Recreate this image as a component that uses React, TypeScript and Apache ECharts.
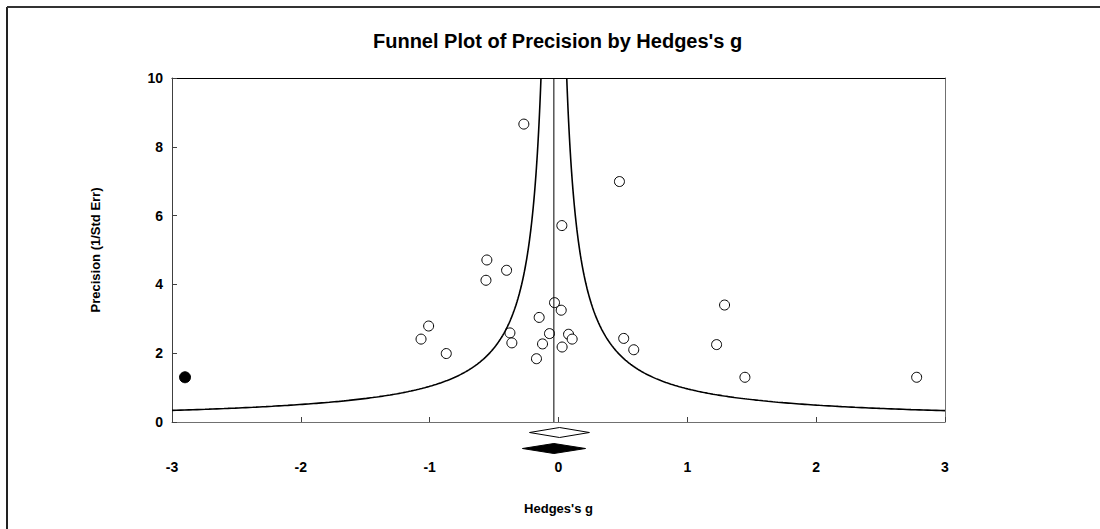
import React, { useEffect, useRef } from "react";
import * as echarts from "echarts";

// ---- data ----
const studyG = [
  -0.269, 0.473, 0.026, -0.556, -0.403, -0.563, -0.031, 0.021, -0.15, -1.008,
  -0.377, -0.07, 0.078, -1.067, 0.106, 0.506, -0.362, -0.124, 0.028, 0.584,
  -0.871, -0.171, 1.289, 1.227, 1.447, 2.78,
];
const studyPrecision = [
  8.66, 6.99, 5.71, 4.71, 4.41, 4.12, 3.47, 3.25, 3.04, 2.79, 2.59, 2.57, 2.55,
  2.41, 2.41, 2.43, 2.3, 2.27, 2.18, 2.1, 1.99, 1.84, 3.4, 2.25, 1.3, 1.3,
];
const imputedG = [-2.899];
const imputedPrecision = [1.3];

// combined effects: [lower, point, upper]
const observedEffect = [-0.225, 0.008, 0.24];
const adjustedEffect = [-0.28, -0.036, 0.21];

const funnelCenter = -0.036; // vertical line / funnel centre (adjusted estimate)
const funnelWidth = 1.0; // half-width of funnel = funnelWidth / precision

const xTicks = ["-3", "-2", "-1", "0", "1", "2", "3"];
const yTicks = ["0", "2", "4", "6", "8", "10"];

const X_MIN = -3;
const X_MAX = 3;
const Y_MIN = 0;
const Y_MAX = 10;

function funnelBranch(sign: number): number[][] {
  const edge = sign < 0 ? X_MIN : X_MAX;
  const pStart = funnelWidth / Math.abs(edge - funnelCenter);
  const n = 300;
  const out: number[][] = [];
  for (let i = 0; i <= n; i++) {
    const p = pStart * Math.pow(Y_MAX / pStart, i / n);
    out.push([funnelCenter + (sign * funnelWidth) / p, p]);
  }
  return out;
}

const FONT = "'Liberation Sans', Arial, sans-serif";

export default function App() {
  const ref = useRef<HTMLDivElement>(null);

  useEffect(() => {
    document.body.style.margin = "0";
    const chart = echarts.init(ref.current!, undefined, { renderer: "svg" });

    const diamondRender = (params: any, api: any) => {
      const lo = api.value(0);
      const mid = api.value(1);
      const hi = api.value(2);
      const row = params.dataIndex;
      const base = api.coord([mid, 0])[1];
      const yc = base + (row === 0 ? 10.5 : 26.5);
      const half = 5;
      const pl = api.coord([lo, 0])[0];
      const pm = api.coord([mid, 0])[0];
      const ph = api.coord([hi, 0])[0];
      return {
        type: "polygon",
        shape: {
          points: [
            [pl, yc],
            [pm, yc - half],
            [ph, yc],
            [pm, yc + half],
          ],
        },
        style: {
          fill: row === 0 ? "#ffffff" : "#000000",
          stroke: "#000000",
          lineWidth: 1,
        },
      };
    };

    chart.setOption({
      animation: false,
      backgroundColor: "#ffffff",
      title: {
        text: "Funnel Plot of Precision by Hedges's g",
        left: 368,
        top: 26,
        padding: 5,
        textStyle: {
          fontFamily: FONT,
          fontSize: 20,
          fontWeight: "bold",
          color: "#000",
        },
      },
      graphic: [
        {
          type: "line",
          shape: { x1: 7, y1: 7, x2: 7, y2: 529 },
          style: { stroke: "#222", lineWidth: 2 },
        },
        {
          type: "line",
          shape: { x1: 7, y1: 7, x2: 1100, y2: 7 },
          style: { stroke: "#333", lineWidth: 2 },
        },
      ],
      grid: { left: 172, right: 155, top: 78, bottom: 107 },
      xAxis: [
        {
          type: "value",
          min: X_MIN,
          max: X_MAX,
          interval: 1,
          position: "bottom",
          name: "Hedges's g",
          nameLocation: "middle",
          nameGap: 80,
          nameTextStyle: {
            fontFamily: FONT,
            fontSize: 13,
            fontWeight: "bold",
            color: "#000",
          },
          axisLine: { show: true, onZero: false, lineStyle: { color: "#707070", width: 1 } },
          axisTick: {
            show: true,
            inside: true,
            length: 5,
            lineStyle: { color: "#404040" },
          },
          axisLabel: {
            margin: 38,
            fontFamily: FONT,
            fontSize: 14,
            fontWeight: "bold",
            color: "#000",
            formatter: (v: number) => xTicks[Math.round(v - X_MIN)] ?? "",
          },
          splitLine: { show: false },
        },
        {
          type: "value",
          min: X_MIN,
          max: X_MAX,
          position: "top",
          axisLine: { show: true, onZero: false, lineStyle: { color: "#000", width: 1 } },
          axisTick: { show: false },
          axisLabel: { show: false },
          splitLine: { show: false },
        },
      ],
      yAxis: [
        {
          type: "value",
          min: Y_MIN,
          max: Y_MAX,
          interval: 2,
          position: "left",
          name: "Precision (1/Std Err)",
          nameLocation: "middle",
          nameGap: 70,
          nameRotate: 90,
          nameTextStyle: {
            fontFamily: FONT,
            fontSize: 13,
            fontWeight: "bold",
            color: "#000",
          },
          axisLine: { show: true, onZero: false, lineStyle: { color: "#404040", width: 1 } },
          axisTick: {
            show: true,
            inside: true,
            length: 5,
            lineStyle: { color: "#404040" },
          },
          axisLabel: {
            margin: 9,
            fontFamily: FONT,
            fontSize: 14,
            fontWeight: "bold",
            color: "#000",
            formatter: (v: number) => yTicks[Math.round((v - Y_MIN) / 2)] ?? "",
          },
          splitLine: { show: false },
        },
        {
          type: "value",
          min: Y_MIN,
          max: Y_MAX,
          position: "right",
          axisLine: { show: true, onZero: false, lineStyle: { color: "#707070", width: 1 } },
          axisTick: { show: false },
          axisLabel: { show: false },
          splitLine: { show: false },
        },
      ],
      series: [
        {
          type: "line",
          data: [
            [funnelCenter, Y_MIN],
            [funnelCenter, Y_MAX],
          ],
          symbol: "none",
          lineStyle: { color: "#000", width: 1 },
          silent: true,
        },
        {
          type: "line",
          data: funnelBranch(-1),
          symbol: "none",
          smooth: false,
          lineStyle: { color: "#000", width: 1.6 },
          silent: true,
        },
        {
          type: "line",
          data: funnelBranch(1),
          symbol: "none",
          smooth: false,
          lineStyle: { color: "#000", width: 1.6 },
          silent: true,
        },
        {
          type: "scatter",
          data: studyG.map((g, i) => [g, studyPrecision[i]]),
          symbol: "circle",
          symbolSize: 10,
          itemStyle: { color: "#fff", borderColor: "#000", borderWidth: 1, opacity: 1 },
        },
        {
          type: "scatter",
          data: imputedG.map((g, i) => [g, imputedPrecision[i]]),
          symbol: "circle",
          symbolSize: 11,
          itemStyle: { color: "#000", borderColor: "#000", borderWidth: 1, opacity: 1 },
        },
        {
          type: "custom",
          clip: false,
          renderItem: diamondRender,
          data: [observedEffect, adjustedEffect],
          encode: { x: [0, 1, 2], y: 1 },
          silent: true,
        },
      ],
    });

    return () => chart.dispose();
  }, []);

  return (
    <div
      ref={ref}
      style={{ position: "absolute", left: 0, top: 0, width: 1100, height: 529 }}
    />
  );
}
